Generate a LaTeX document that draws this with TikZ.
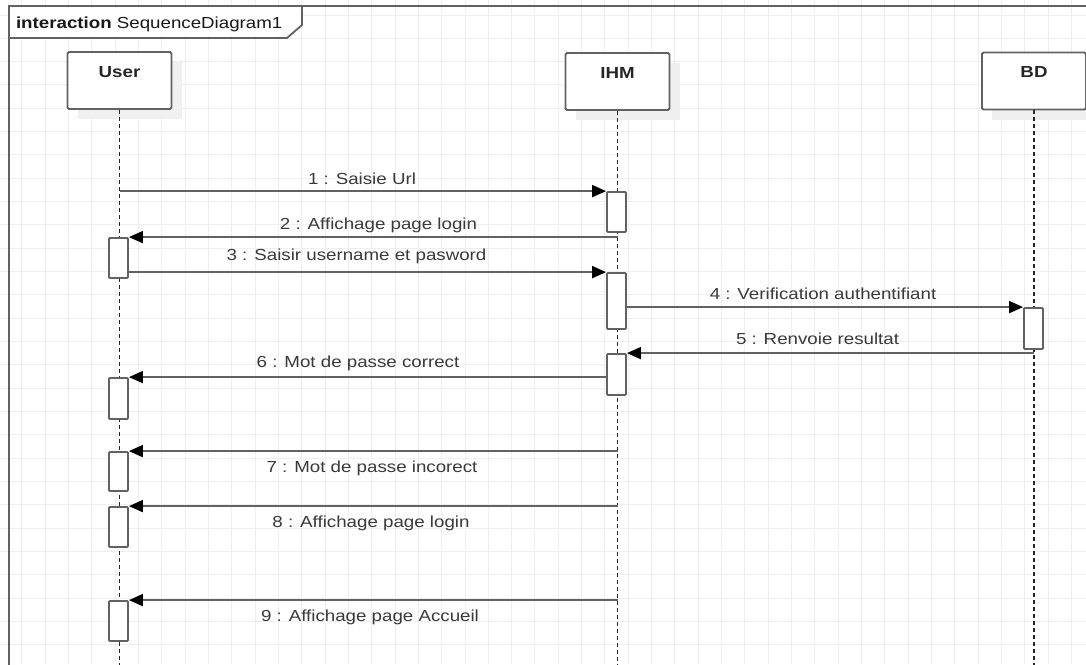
\documentclass[tikz,border=0pt]{standalone}
\usepackage{fontspec}
\setmainfont{Liberation Sans}[FakeStretch=1.17]
\usetikzlibrary{arrows.meta,calc}
\definecolor{gridc}{HTML}{EFEFEF}
\definecolor{linec}{HTML}{626262}
\definecolor{txtc}{HTML}{3A3A3A}
\definecolor{shadc}{HTML}{F0F0F0}
\begin{document}
\begin{tikzpicture}[x=1pt,y=-1pt,
  every node/.style={font=\fontsize{16}{19}\selectfont, text=txtc},
  headbox/.style={draw=linec, line width=1.8pt, fill=white, rounded corners=1.5pt,
    minimum width=104pt, minimum height=57pt, inner sep=0pt},
  headlbl/.style={anchor=base, font=\fontsize{16}{19}\selectfont\bfseries, text=black!85},
  actbar/.style={draw=linec, line width=1.8pt, fill=white, rounded corners=1pt,
    minimum width=19pt, inner sep=0pt},
  lifeline/.style={draw=black!85, line width=1.4pt, dash pattern=on 4pt off 3pt},
  msg/.style={draw=linec, line width=1.8pt, -{Triangle[length=14pt,width=12pt,color=black]}},
  msglbl/.style={anchor=base},
  framec/.style={draw=linec, line width=1.8pt},
  shadow/.style={fill=shadc}
]
\useasboundingbox (0,0) rectangle (1086,664);
\fill[white] (0,0) rectangle (1086,664);
% grid
\begin{scope}
\clip (0,0) rectangle (1086,664);
\foreach \i in {0,...,47} \draw[gridc, line width=1pt] ({-1.6+23.33*\i},0) -- ++(0,664);
\foreach \j in {0,...,28} \draw[gridc, line width=1pt] (0,{15+23.33*\j}) -- ++(1086,0);
\end{scope}

\coordinate (bottom) at (0,666);

% frame
\draw[framec] (1090,6) -- (9,6) -- (9,670);
\draw[framec, fill=white, line join=miter] (9,6) -- (302,6) -- (302,25) -- (287,38) -- (9,38) -- cycle;
\node[anchor=base west, text=black!90] (title) at (12.5,28) {\textbf{interaction} SequenceDiagram1};

% lifeline heads with shadows
\fill[shadow] (77.5,62) rectangle (181.5,119);
\fill[shadow] (575.5,63) rectangle (679.5,120);
\fill[shadow] (992,63) rectangle (1096,120);
\node[headbox] (user) at (119.5,80.5) {};
\node[headbox] (ihm) at (617.5,81.5) {};
\node[headbox] (bd) at (1034,81) {};
\node[headlbl] (userlbl) at ($(user.north)+(0,26)$) {User};
\node[headlbl] (ihmlbl) at ($(ihm.north)+(0,26)$) {IHM};
\node[headlbl] (bdlbl) at ($(bd.north)+(0,26)$) {BD};

% lifelines
\draw[lifeline] (user.south) -- (user.south |- bottom);
\draw[lifeline] (ihm.south) -- (ihm.south |- bottom);
\draw[lifeline] (bd.south) -- (bd.south |- bottom);

% activation bars
\node[actbar, minimum height=40pt] (uA) at (118.5,258) {};
\node[actbar, minimum height=41pt] (uB) at (118.5,398.5) {};
\node[actbar, minimum height=39pt] (uC) at (118.5,471.5) {};
\node[actbar, minimum height=40pt] (uD) at (118.5,527) {};
\node[actbar, minimum height=40pt] (uE) at (118.5,621) {};
\node[actbar, minimum height=40pt] (i1) at (616.5,212) {};
\node[actbar, minimum height=56pt] (i2) at (616.5,301) {};
\node[actbar, minimum height=41pt] (i3) at (616.5,374.5) {};
\node[actbar, minimum height=41pt] (b1) at (1033.5,328.5) {};

% messages
\draw[msg] (i1.north west -| user.south) -- (i1.north west);
\node[msglbl] (l1) at (362,184) {1 : Saisie Url};
\draw[msg] (uA.north east -| ihm.south) -- (uA.north east);
\node[msglbl] (l2) at (378.5,229) {2 : Affichage page login};
\draw[msg] (i2.north west -| uA.east) -- (i2.north west);
\node[msglbl] (l3) at (356.5,260) {3 : Saisir username et pasword};
\draw[msg] (b1.north west -| i2.east) -- (b1.north west);
\node[msglbl] (l4) at (823,299) {4 : Verification authentifiant};
\draw[msg] (i3.north east -| bd.south) -- (i3.north east);
\node[msglbl] (l5) at (817.5,344) {5 : Renvoie resultat};
\draw[msg] (uB.north east -| i3.west) -- (uB.north east);
\node[msglbl] (l6) at (358,367.5) {6 : Mot de passe correct};
\draw[msg] (uC.north east -| ihm.south) -- (uC.north east);
\node[msglbl] (l7) at (372,472) {7 : Mot de passe incorect};
\draw[msg] (uD.north east -| ihm.south) -- (uD.north east);
\node[msglbl] (l8) at (371,527) {8 : Affichage page login};
\draw[msg] (uE.north east -| ihm.south) -- (uE.north east);
\node[msglbl] (l9) at (370,621) {9 : Affichage page Accueil};
\end{tikzpicture}
\end{document}
